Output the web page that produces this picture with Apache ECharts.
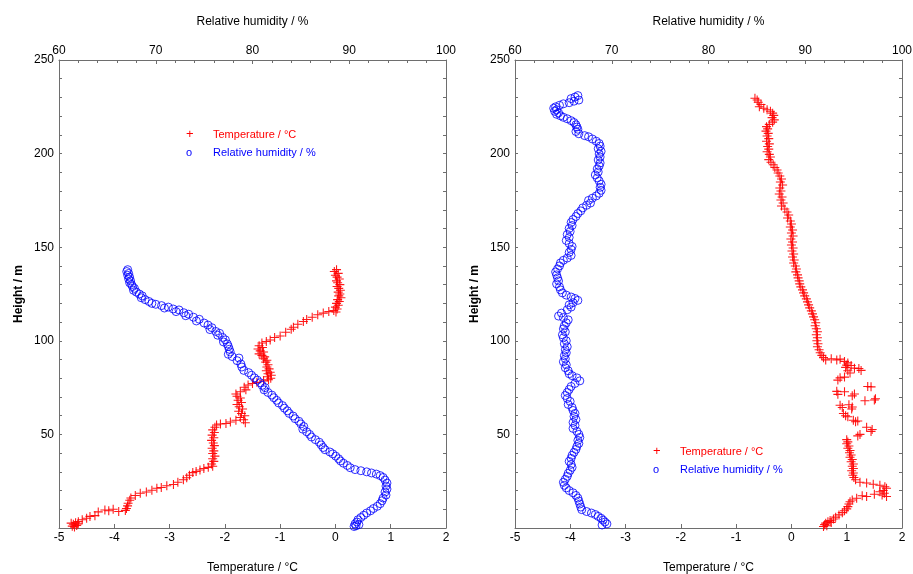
<!DOCTYPE html>
<html>
<head>
<meta charset="utf-8">
<title>Temperature and relative humidity profiles</title>
<script src="https://cdn.jsdelivr.net/npm/echarts@6/dist/echarts.min.js"></script>
<style>
  html, body { margin: 0; padding: 0; background: #fff; }
  #chart { width: 913px; height: 574px; }
</style>
</head>
<body>
<div id="chart"></div>
<script>
// Profile 1: [temperature °C, height m]
const leftTemp = [
  [0.02,138],[-0.02,137],[0.05,136],[0.0,135],[0.03,134],[0.07,133],[0.02,132],[0.04,131],[0.08,130],[0.03,129],
  [0.06,128],[0.09,127],[0.05,126],[0.08,125],[0.06,124],[0.1,123],[0.04,122],[0.07,121],[0.02,120],[0.05,119],
  [0.0,118],[0.03,117],[-0.03,116.2],[0.01,115.4],[-0.12,115.6],[-0.22,114.8],[-0.32,113.9],[-0.42,112.6],[-0.52,111.4],[-0.58,110.3],
  [-0.68,108.8],[-0.76,107.2],[-0.8,106.2],[-0.9,104.6],[-1.0,102.6],[-1.1,101.8],[-1.18,100.4],[-1.25,99.6],[-1.33,98.8],[-1.38,97.4],
  [-1.32,96.4],[-1.4,95.6],[-1.36,94.6],[-1.3,94.0],[-1.38,93.0],[-1.33,92.2],[-1.28,91.4],[-1.3,90.4],[-1.24,89.6],[-1.26,88.6],
  [-1.22,87.2],[-1.24,86],[-1.2,85],[-1.25,84],[-1.18,83.2],[-1.22,82.4],[-1.16,81.6],[-1.23,80.8],[-1.17,80],[-1.21,79.2],
  [-1.3,78.6],[-1.42,77.8],[-1.5,77.2],[-1.58,76.4],[-1.65,75.2],[-1.62,73.8],[-1.72,72.8],[-1.8,71.6],[-1.78,70.4],[-1.72,69.4],
  [-1.76,68.2],[-1.7,67],[-1.78,66],[-1.74,64.8],[-1.68,63.6],[-1.75,62.4],[-1.7,61.2],[-1.64,60],[-1.72,59],[-1.66,57.8],
  [-1.63,56.2],[-1.8,57.6],[-1.9,56.6],[-1.98,55.8],[-2.08,55.6],[-2.15,55],[-2.18,53.8],[-2.22,52.4],[-2.19,51],[-2.23,49.6],
  [-2.2,48.2],[-2.24,46.8],[-2.21,45.4],[-2.19,44],[-2.23,42.6],[-2.2,41.2],[-2.22,39.8],[-2.18,38.4],[-2.22,37],[-2.2,35.6],
  [-2.24,34.2],[-2.22,33],[-2.3,32.4],[-2.38,31.8],[-2.45,31],[-2.52,30.2],[-2.58,29.6],[-2.64,28.2],[-2.69,26.8],[-2.75,25.8],
  [-2.85,24.4],[-2.93,23.2],[-3.05,22.6],[-3.15,21.6],[-3.23,21.2],[-3.32,20.2],[-3.42,19.2],[-3.53,18.6],[-3.62,17.4],[-3.7,16],
  [-3.72,14.8],[-3.75,13.2],[-3.76,11.8],[-3.78,10.4],[-3.8,9.4],[-3.92,8.8],[-4.02,10],[-4.1,9.2],[-4.17,9.6],[-4.29,8.6],
  [-4.35,6.6],[-4.44,6.2],[-4.5,5.2],[-4.58,4.4],[-4.65,3.4],[-4.7,2.8],[-4.74,2],[-4.68,1.4],[-4.76,1.0],[-4.72,0.6],
  [-4.66,2.2],[-4.78,2.6]
];

// Profile 1: [relative humidity %, height m]
const leftRh = [
  [67.1,138],[67.0,137],[67.2,136],[67.1,135],[67.3,134],[67.2,133],[67.4,132],[67.3,131],[67.5,130],[67.6,129],
  [67.8,128],[67.7,127],[68.0,126],[68.3,125],[68.6,124],[68.5,123],[68.9,122],[69.3,121],[69.6,120],[70.0,119.5],
  [70.6,118.8],[71.3,118],[70.9,117.5],[71.8,117],[72.4,116.5],[72.1,115.6],[72.9,115],[73.4,114.2],[73.1,113.4],[73.9,112.6],
  [74.5,111.5],[74.2,110.6],[75.0,109.5],[75.4,108.4],[75.8,107],[75.6,106],[76.2,105],[76.6,104],[76.4,103],[76.9,101.8],
  [77.2,100.5],[77.0,99.4],[77.4,98.3],[77.5,97],[77.6,95.5],[77.7,94],[77.5,92.8],[77.9,91.6],[78.6,90.8],[78.4,89.4],
  [78.8,87.6],[78.9,86],[79.1,84.2],[79.6,83],[79.9,81.6],[80.2,80.2],[80.5,79],[80.8,77.6],[81.0,76.2],[81.3,75],
  [81.2,73.8],[81.6,72.4],[82.0,71],[82.2,69.6],[82.5,68.2],[82.7,66.8],[83.1,65.4],[83.3,64],[83.6,62.6],[83.8,61.2],
  [84.2,59.8],[84.4,58.4],[84.8,57],[85.0,55.6],[85.3,54.2],[85.2,52.8],[85.6,51.4],[85.9,50],[86.1,48.6],[86.5,47.2],
  [86.9,45.8],[87.1,44.4],[87.3,43],[87.5,41.8],[88.0,40.6],[88.3,39.6],[88.6,38.4],[88.9,37],[89.1,35.8],[89.4,34.6],
  [89.8,33.4],[90.1,32.2],[90.6,31.2],[91.2,30.6],[91.8,30],[92.3,29.4],[92.8,28.8],[93.2,28],[93.5,27],[93.7,25.6],
  [93.9,24],[93.8,22.4],[93.9,20.8],[93.7,19.2],[93.8,17.6],[93.5,16],[93.4,14.6],[93.2,13],[92.9,11.6],[92.5,10.4],
  [92.2,9.2],[91.8,8],[91.5,6.8],[91.2,5.6],[90.9,4.4],[90.8,3.2],[90.6,2.2],[90.7,1.2],[91.0,1.8],[90.5,0.8]
];

// Profile 2: [temperature °C, height m]
const rightTemp = [
  [-0.66,229.6],[-0.62,228.6],[-0.6,227.4],[-0.55,226.2],[-0.58,225],[-0.5,224.2],[-0.44,223.4],[-0.38,222.6],[-0.34,221.6],[-0.32,220.4],
  [-0.35,219.2],[-0.31,218],[-0.34,216.8],[-0.4,215.6],[-0.45,214.4],[-0.43,213.2],[-0.46,212],[-0.42,210.8],[-0.44,209.4],[-0.41,208],
  [-0.45,206.6],[-0.4,205.2],[-0.43,203.8],[-0.41,202.4],[-0.44,201],[-0.4,199.6],[-0.38,198.2],[-0.41,196.8],[-0.37,195.4],[-0.33,194],
  [-0.3,192.6],[-0.26,191.2],[-0.24,189.6],[-0.21,188],[-0.18,186.4],[-0.2,184.8],[-0.16,183.2],[-0.21,181.6],[-0.19,180],[-0.22,178.4],
  [-0.17,176.8],[-0.19,175.2],[-0.15,173.6],[-0.18,172],[-0.12,170.4],[-0.08,168.8],[-0.05,167.2],[-0.07,165.6],[-0.02,164],[0.0,162.4],
  [-0.02,160.8],[0.02,159.2],[0.0,157.6],[0.03,156],[-0.01,154.4],[0.02,152.8],[0.0,151.2],[0.03,149.6],[0.01,148],[0.04,146.4],
  [0.02,144.8],[0.05,143.2],[0.04,141.6],[0.07,140],[0.09,138.4],[0.08,136.8],[0.11,135.2],[0.12,133.6],[0.14,132],[0.15,130.4],
  [0.17,128.8],[0.2,127.2],[0.22,125.6],[0.24,124],[0.27,122.4],[0.29,120.8],[0.31,119.2],[0.33,117.6],[0.36,116],[0.38,114.4],
  [0.4,112.8],[0.42,111.2],[0.44,109.6],[0.43,108],[0.45,106.4],[0.47,104.8],[0.45,103.2],[0.47,101.6],[0.46,100],[0.48,98.4],
  [0.47,96.8],[0.5,95.2],[0.52,93.6],[0.55,92.2],[0.58,91],[0.62,89.8],[0.72,90.4],[0.82,89.8],[0.88,90.2],[0.96,89],
  [1.02,88.2],[1.0,87],[1.08,86.8],[0.98,85.8],[1.14,85.4],[1.22,85.2],[1.26,84.2],[1.06,82.8],[1.02,84],[0.88,80.2],
  [0.84,79],[0.96,80.6],[1.38,75.6],[1.44,75.4],[0.82,73],[0.84,71.4],[0.96,72.8],[1.1,70.6],[1.14,71.6],[1.52,69],
  [1.5,68.4],[1.33,68],[0.88,65.6],[0.92,64.4],[1.04,65.8],[1.1,64.6],[1.09,63.6],[0.94,61.2],[0.98,60],[1.02,59.4],
  [1.12,57.6],[1.16,56.8],[1.2,57.2],[1.36,53.8],[1.46,52.6],[1.44,51.6],[1.24,50],[1.2,49.2],[1.0,47.2],[1.02,46],
  [1.0,45],[1.04,43.8],[1.02,42.6],[1.06,41.4],[1.05,40.2],[1.08,39],[1.06,37.8],[1.1,36.6],[1.08,35.4],[1.12,34.2],
  [1.1,33],[1.12,31.8],[1.09,30.6],[1.12,29.4],[1.11,28.2],[1.13,27],[1.16,25.8],[1.24,24.4],[1.36,24],[1.48,23.4],
  [1.6,22.8],[1.69,22],[1.72,21.2],[1.66,20],[1.6,19.4],[1.68,18.6],[1.72,16.8],[1.64,17.6],[1.5,18],[1.36,16.8],
  [1.28,17.2],[1.18,15.9],[1.1,15],[1.06,14],[1.04,12.8],[1.02,11.4],[1.0,10.2],[0.96,9.2],[0.92,8.2],[0.86,7],
  [0.8,5.8],[0.76,4.8],[0.7,4.0],[0.66,3.4],[0.62,2.6],[0.6,1.8],[0.58,0.8],[0.64,1.2],[0.72,3.0]
];

// Profile 2: [relative humidity %, height m]
const rightRh = [
  [66.5,231],[66.2,230.2],[65.8,229.4],[66.6,228.6],[66.1,228],[65.6,227.2],[65.0,226.6],[64.6,225.8],[64.2,225],[64.0,224.2],
  [64.3,223.4],[64.1,222.6],[64.5,221.8],[64.3,221],[64.7,220.2],[65.0,219.4],[65.4,218.6],[65.8,217.6],[66.1,216.6],[66.3,215.4],
  [66.4,214.2],[66.5,213],[66.3,211.8],[66.6,210.6],[67.2,209.6],[67.6,209],[68.0,207.8],[68.4,206.6],[68.7,205.4],[68.8,204],
  [68.6,202.6],[68.9,201.2],[68.7,199.8],[68.8,198.2],[68.6,196.6],[68.8,195],[68.7,193.4],[68.5,191.8],[68.6,190.2],[68.3,188.6],
  [68.5,187],[68.7,185.4],[68.9,183.6],[68.8,182],[68.9,180.4],[68.7,178.8],[68.4,177.4],[68.0,176.2],[67.6,175],[67.8,173.6],
  [67.4,172.4],[67.0,171],[66.8,169.4],[66.5,168],[66.3,166.4],[66.0,164.8],[65.8,163.2],[65.9,161.6],[65.6,160],[65.7,158.4],
  [65.4,156.8],[65.6,155.2],[65.3,153.6],[65.6,152],[65.9,150.4],[65.8,148.8],[65.6,147.2],[65.8,145.6],[65.4,144.2],[65.0,143],
  [64.7,141.6],[64.6,140],[64.4,138.4],[64.2,136.8],[64.3,135.2],[64.4,133.6],[64.5,132],[64.3,130.4],[64.6,128.8],[64.7,127.2],
  [64.9,125.6],[65.3,124.4],[65.8,123.4],[66.2,122.6],[66.5,121.6],[66.0,120.4],[65.6,119.2],[65.8,118],[65.4,116.6],[64.8,114.8],
  [64.5,113.2],[65.0,112.4],[65.5,111.2],[65.3,109.6],[65.1,108],[65.0,106.4],[65.2,104.8],[64.9,103.2],[65.0,101.6],[65.3,100],
  [65.1,98.4],[65.4,96.8],[65.2,95.2],[65.3,93.6],[65.1,92],[65.2,90.4],[65.0,88.8],[65.3,87.2],[65.2,85.6],[65.5,84],
  [65.6,82.4],[65.9,81.4],[66.4,80.2],[66.7,78.6],[66.2,77.2],[65.8,75.6],[65.6,74],[65.4,72.4],[65.2,70.8],[65.4,69.2],
  [65.7,67.6],[65.5,66],[65.9,64.4],[66.0,62.8],[66.2,61.2],[66.1,59.6],[66.3,58],[66.0,56.4],[66.2,54.8],[66.0,53.2],
  [66.4,51.6],[66.6,50],[66.7,48.4],[66.5,46.8],[66.6,45.2],[66.4,43.6],[66.3,42],[66.1,40.4],[65.9,38.8],[65.8,37.2],
  [65.6,35.6],[65.8,34],[65.9,32.4],[65.7,30.8],[65.5,29.2],[65.4,27.6],[65.2,26],[65.0,24.4],[65.1,22.8],[65.3,21.4],
  [65.6,20],[66.0,18.8],[66.3,17.4],[66.5,16],[66.6,14.4],[66.7,12.8],[66.8,11.2],[66.9,9.8],[67.4,8.8],[67.9,8],
  [68.3,7.2],[68.6,6.2],[68.9,5.2],[69.1,4.2],[69.3,3.2],[69.5,2.2],[69.0,1.6]
];

// Axis ranges and labels
const tempRange = [-5, 2];
const rhRange = [60, 100];
const heightRange = [0, 250];
const tempTitle = 'Temperature / °C';
const rhTitle = 'Relative humidity / %';
const heightTitle = 'Height / m';
const legendNames = ['Temperature / °C', 'Relative humidity / %'];

const FONT = '"Liberation Sans", Arial, sans-serif';
const AXIS_COLOR = '#6e6e6e';
const RED = '#ff0000';
const BLUE = '#0000ff';
const PLUS = 'path://M0,4.4H10V5.6H0Z M4.4,0H5.6V10H4.4Z';

const panels = [
  { left: 59 },
  { left: 515 }
];
const PLOT_W = 387, PLOT_TOP = 60, PLOT_H = 468;

// fixed plot boxes; axis names may sit at the canvas edge
const grid = panels.map(p => ({
  left: p.left, top: PLOT_TOP, width: PLOT_W, height: PLOT_H,
  containLabel: false, outerBoundsMode: 'none'
}));

const xAxis = [];
const yAxis = [];
panels.forEach((p, i) => {
  // bottom: temperature
  xAxis.push({
    gridIndex: i, type: 'value', position: 'bottom',
    min: tempRange[0], max: tempRange[1], interval: 1,
    name: tempTitle, nameLocation: 'middle', nameGap: 34,
    nameTextStyle: { fontFamily: FONT, fontSize: 12, color: '#000' },
    axisLine: { show: true, onZero: false, lineStyle: { color: AXIS_COLOR, width: 1 } },
    axisTick: { show: true, inside: true, length: 4, lineStyle: { color: AXIS_COLOR } },
    axisLabel: { fontFamily: FONT, fontSize: 12, color: '#000', margin: 4 },
    splitLine: { show: false }
  });
  // top: relative humidity
  xAxis.push({
    gridIndex: i, type: 'value', position: 'top',
    min: rhRange[0], max: rhRange[1], interval: 10,
    name: rhTitle, nameLocation: 'middle', nameGap: 32,
    nameTextStyle: { fontFamily: FONT, fontSize: 12, color: '#000' },
    axisLine: { show: true, onZero: false, lineStyle: { color: AXIS_COLOR, width: 1 } },
    axisTick: { show: true, inside: true, length: 4, lineStyle: { color: AXIS_COLOR } },
    minorTick: { show: true, splitNumber: 5, length: 3, lineStyle: { color: AXIS_COLOR } },
    axisLabel: { fontFamily: FONT, fontSize: 12, color: '#000', margin: 3 },
    splitLine: { show: false }
  });
  // left: height
  yAxis.push({
    gridIndex: i, type: 'value', position: 'left',
    min: heightRange[0], max: heightRange[1], interval: 10,
    name: heightTitle, nameLocation: 'middle', nameGap: 34, nameRotate: 90,
    nameTextStyle: { fontFamily: FONT, fontSize: 12, fontWeight: 'bold', color: '#000' },
    axisLine: { show: true, onZero: false, lineStyle: { color: AXIS_COLOR, width: 1 } },
    axisTick: { show: true, inside: true, length: 3, lineStyle: { color: AXIS_COLOR } },
    axisLabel: {
      fontFamily: FONT, fontSize: 12, color: '#000', margin: 5, showMinLabel: false,
      formatter: v => (v % 50 === 0 && v > 0) ? String(v) : ''
    },
    splitLine: { show: false }
  });
  // right: mirrored frame ticks
  yAxis.push({
    gridIndex: i, type: 'value', position: 'right',
    min: heightRange[0], max: heightRange[1], interval: 10,
    axisLine: { show: true, onZero: false, lineStyle: { color: AXIS_COLOR, width: 1 } },
    axisTick: { show: true, inside: true, length: 3, lineStyle: { color: AXIS_COLOR } },
    axisLabel: { show: false },
    splitLine: { show: false }
  });
});

function tempSeries(data, gi) {
  return {
    type: 'scatter', name: legendNames[0], data: data,
    xAxisIndex: gi * 2, yAxisIndex: gi * 2,
    symbol: PLUS, symbolSize: 9,
    itemStyle: { color: RED, opacity: 0.9 },
    silent: true
  };
}
function rhSeries(data, gi) {
  return {
    type: 'scatter', name: legendNames[1], data: data,
    xAxisIndex: gi * 2 + 1, yAxisIndex: gi * 2,
    symbol: 'circle', symbolSize: 8,
    itemStyle: { color: 'rgba(0,0,0,0)', borderColor: BLUE, borderWidth: 1 },
    silent: true
  };
}

// Key entries drawn as text inside each panel
function keyBlock(x, y) {
  return [
    { type: 'text', left: x, top: y - 8, style: { text: '+', fill: RED, font: '13px ' + FONT } },
    { type: 'text', left: x + 27, top: y - 7, style: { text: legendNames[0], fill: RED, font: '11px ' + FONT } },
    { type: 'text', left: x, top: y + 11, style: { text: 'o', fill: BLUE, font: '11px ' + FONT } },
    { type: 'text', left: x + 27, top: y + 11, style: { text: legendNames[1], fill: BLUE, font: '11px ' + FONT } }
  ];
}

const chart = echarts.init(document.getElementById('chart'), null, { renderer: 'canvas' });
chart.setOption({
  backgroundColor: '#ffffff',
  animation: false,
  textStyle: { fontFamily: FONT },
  grid: grid,
  xAxis: xAxis,
  yAxis: yAxis,
  series: [
    tempSeries(leftTemp, 0),
    rhSeries(leftRh, 0),
    tempSeries(rightTemp, 1),
    rhSeries(rightRh, 1)
  ],
  graphic: keyBlock(186, 136).concat(keyBlock(653, 453))
});
</script>
</body>
</html>
